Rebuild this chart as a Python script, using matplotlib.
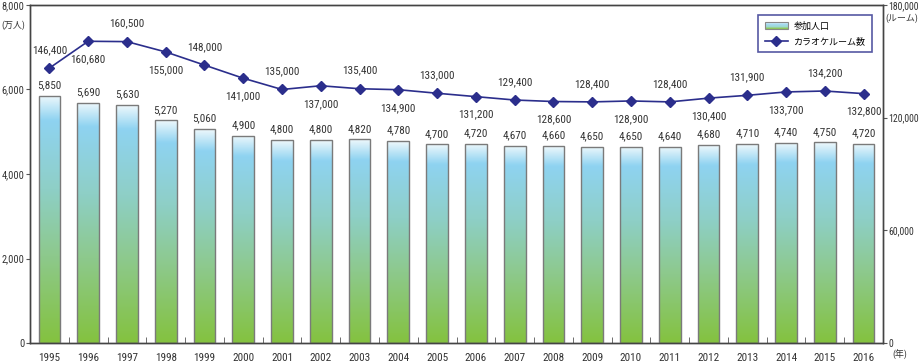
import numpy as np
import matplotlib
matplotlib.use('Agg')
import matplotlib.pyplot as plt
from matplotlib.colors import LinearSegmentedColormap
from matplotlib.patches import Rectangle
from matplotlib.lines import Line2D
from matplotlib.legend_handler import HandlerBase
from matplotlib.image import BboxImage
from matplotlib.transforms import Bbox, TransformedBbox
from matplotlib.ticker import FixedLocator
from matplotlib import font_manager

names = {f.name for f in font_manager.fontManager.ttflist}
num_font = next((n for n in ['Roboto Condensed', 'Liberation Sans Narrow', 'Noto Sans CJK JP']
                 if n in names), 'DejaVu Sans')
plt.rcParams['font.family'] = [num_font, 'Noto Sans CJK JP', 'DejaVu Sans']

# data
years = ['1995', '1996', '1997', '1998', '1999', '2000', '2001', '2002', '2003', '2004', '2005',
         '2006', '2007', '2008', '2009', '2010', '2011', '2012', '2013', '2014', '2015', '2016']
participants = [5850, 5690, 5630, 5270, 5060, 4900, 4800, 4800, 4820, 4780, 4700,
                4720, 4670, 4660, 4650, 4650, 4640, 4680, 4710, 4740, 4750, 4720]
rooms = [146400, 160680, 160500, 155000, 148000, 141000, 135000, 137000, 135400, 134900, 133000,
         131200, 129400, 128600, 128400, 128900, 128400, 130400, 131900, 133700, 134200, 132800]
left_ticks = [0, 2000, 4000, 6000, 8000]
right_ticks = [0, 60000, 120000, 180000]

TXT = '#333333'
NAVY = '#2b2e8c'
big = num_font != 'Noto Sans CJK JP'
FS = 8 if big else 7
TFS = 7.5 if big else 6.5
RFS = 7 if big else 6

grad = LinearSegmentedColormap.from_list('bar', [
    (0.0, '#84c23f'),
    (0.35, '#8dc98c'),
    (0.62, '#8ecfc6'),
    (0.9, '#8fd3f1'),
    (1.0, '#eef8fc'),
])
grad_img = np.linspace(0, 1, 256).reshape(-1, 1)

fig = plt.figure(figsize=(9.19, 3.64), dpi=100)
ax = fig.add_axes([30 / 919, 1 - 343 / 364, 853 / 919, 338 / 364])
ax2 = ax.twinx()

x = np.arange(len(years))
bw = 0.56
bars = ax.bar(x, participants, bw, facecolor='none', edgecolor='#7a7a7a', linewidth=1, zorder=3)
for b in bars:
    x0, y0, w, h = b.get_x(), b.get_y(), b.get_width(), b.get_height()
    im = ax.imshow(grad_img, cmap=grad, origin='lower', aspect='auto',
                   extent=(x0, x0 + w, y0, y0 + h), zorder=2)
    im.set_clip_path(b)

for xi, v in zip(x, participants):
    ax.annotate(f'{v:,}', (xi, v), xytext=(0, 4), textcoords='offset points',
                ha='center', va='bottom', fontsize=FS, color=TXT)

ax.set_xlim(-0.5, len(years) - 0.5)
ax.set_ylim(0, 8000)
ax.set_yticks(left_ticks)
ax.set_yticklabels([f'{t:,}' for t in left_ticks])
ax.set_xticks(x)
ax.set_xticklabels(years)
ax.xaxis.set_minor_locator(FixedLocator(np.arange(0.5, len(years) - 1, 1)))
ax.tick_params(axis='x', which='major', length=0, pad=7, labelsize=FS, labelcolor=TXT)
ax.tick_params(axis='x', which='minor', direction='in', length=4, color='#555555')
ax.tick_params(axis='y', length=3, color='#555555', labelsize=TFS, labelcolor=TXT, pad=1)

ax2.plot(x, rooms, color=NAVY, linewidth=1.2, marker='D', markersize=5,
         markerfacecolor=NAVY, markeredgecolor=NAVY, zorder=5)
for i, (xi, v) in enumerate(zip(x, rooms)):
    dy = 13 if i % 2 == 0 else -13
    ax2.annotate(f'{v:,}', (xi, v), xytext=(0, dy), textcoords='offset points',
                 ha='center', va='center', fontsize=FS, color=TXT)
ax2.set_ylim(0, 180000)
ax2.set_yticks(right_ticks)
ax2.set_yticklabels([f'{t:,}' for t in right_ticks])
ax2.tick_params(axis='y', length=3, color='#555555', labelsize=RFS, labelcolor=TXT, pad=1)

for a in (ax, ax2):
    for s in a.spines.values():
        s.set_color('#444444')
        s.set_linewidth(1)

fig.text(1 / 919, 1 - 25 / 364, '(万人)', fontsize=6.5, color=TXT, ha='left', va='center')
fig.text(918 / 919, 1 - 18 / 364, '(ルーム)', fontsize=6.5, color=TXT, ha='right', va='center')
fig.text(892 / 919, 1 - 355 / 364, '(年)', fontsize=6.5, color=TXT, ha='left', va='center')


class GradientHandler(HandlerBase):
    def create_artists(self, legend, orig_handle, xdescent, ydescent, width, height, fontsize, trans):
        bb = TransformedBbox(Bbox.from_bounds(-xdescent, -ydescent, width, height), trans)
        img = BboxImage(bb, cmap=LinearSegmentedColormap.from_list(
            'leg', ['#8cc63f', '#9fd8d0', '#a6dcf2', '#e8f6fb']))
        img.set_data(np.linspace(0, 1, 64).reshape(-1, 1)[::-1] * np.ones((1, 8)))
        rect = Rectangle((-xdescent, -ydescent), width, height, facecolor='none',
                         edgecolor='#888888', linewidth=0.8, transform=trans)
        return [img, rect]


bar_handle = Rectangle((0, 0), 1, 1)
line_handle = Line2D([], [], color=NAVY, linewidth=1.2, marker='D', markersize=5)
leg = ax2.legend([bar_handle, line_handle], ['参加人口', 'カラオケルーム数'],
                 handler_map={Rectangle: GradientHandler()},
                 loc='upper right', bbox_to_anchor=(0.99, 0.978),
                 prop={'family': ['Noto Sans CJK JP'], 'size': 6.5},
                 frameon=True, fancybox=False, edgecolor=NAVY, handlelength=2.6,
                 handletextpad=0.6, borderpad=0.7, labelspacing=0.7, borderaxespad=0.3)
leg.get_frame().set_linewidth(1.2)

fig.savefig('out.png', dpi=100)
